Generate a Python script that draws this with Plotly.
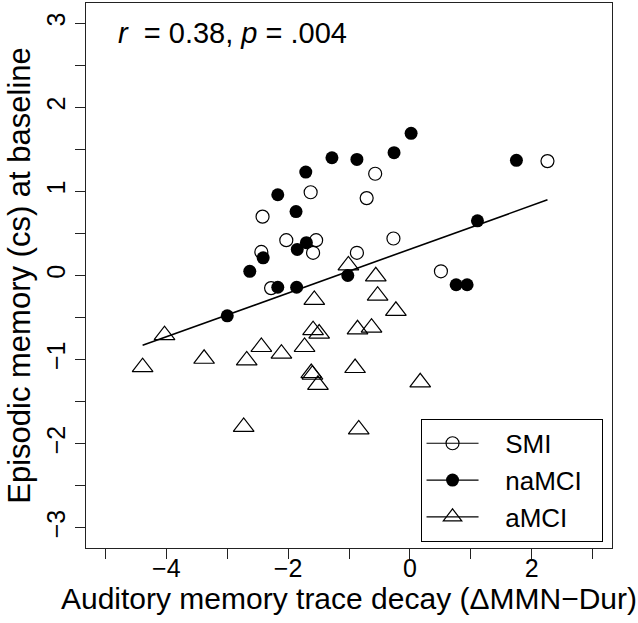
import plotly.graph_objects as go

# ---- data ----
smi_x = [-0.57, -1.63, -0.71, -2.42, -2.03, -1.54, -1.59, -2.44, -0.87, -0.27, -2.28, 2.26, 0.51]
smi_y = [1.21, 0.99, 0.92, 0.70, 0.42, 0.42, 0.27, 0.28, 0.27, 0.44, -0.15, 1.36, 0.05]

namci_x = [0.02, -0.26, -0.87, -1.28, -1.71, -2.17, -1.87, -1.70, -1.85, -2.41,
           -2.63, -2.17, -1.86, -1.02, 1.75, 1.11, 0.76, 0.94, -3.00]
namci_y = [1.69, 1.46, 1.38, 1.40, 1.23, 0.96, 0.76, 0.39, 0.31, 0.21,
           0.05, -0.14, -0.14, 0.00, 1.37, 0.65, -0.11, -0.11, -0.48]

amci_x = [-4.03, -4.39, -3.38, -2.68, -2.44, -2.11, -2.73, -1.01, -0.56, -1.57, -0.53, -0.23,
          -1.59, -1.49, -0.86, -0.63, -1.73, -1.62, -1.60, -1.51, -0.90, 0.17, -0.84]
amci_y = [-0.71, -1.09, -0.99, -1.01, -0.85, -0.93, -1.80, 0.12, -0.01, -0.29, -0.24, -0.42,
          -0.65, -0.69, -0.64, -0.62, -0.85, -1.16, -1.18, -1.30, -1.10, -1.27, -1.83]

fit_x = [-4.39, 2.26]
fit_y = [-0.83, 0.90]

group_names = ["SMI", "naMCI", "aMCI"]
x_ticks = [-4, -2, 0, 2]
y_ticks = [-3, -2, -1, 0, 1, 2, 3]
x_title = "Auditory memory trace decay (ΔMMN−Dur)"
y_title = "Episodic memory (cs) at baseline"
stat_text = "<i>r</i>\u00a0 = 0.38, <i>p</i> = .004"

FONT = "Liberation Sans, Arial, Helvetica, sans-serif"
INK = "#222"

fig = go.Figure()

open_circle = dict(symbol="circle-open", size=13, color="black", line=dict(width=1.2, color="black"))
filled_circle = dict(symbol="circle", size=13, color="black", line=dict(width=0))
open_tri = dict(symbol="triangle-up-open", size=18, color="black", line=dict(width=1.2, color="black"))

fig.add_trace(go.Scatter(x=smi_x, y=smi_y, mode="markers", marker=open_circle, showlegend=False))
fig.add_trace(go.Scatter(x=namci_x, y=namci_y, mode="markers", marker=filled_circle, showlegend=False))
fig.add_trace(go.Scatter(x=amci_x, y=amci_y, mode="markers", marker=open_tri, showlegend=False))
fig.add_trace(go.Scatter(x=fit_x, y=fit_y, mode="lines", line=dict(color="black", width=1.6), showlegend=False))

# legend entries (line + symbol, as in the reference)
pad_l = "\u00a0\u00a0\u00a0"
pad_r = "\u00a0\u00a0"
for name, mk in zip(group_names, [open_circle, filled_circle, open_tri]):
    fig.add_trace(go.Scatter(x=[None], y=[None], mode="lines+markers",
                             name=pad_l + name + pad_r,
                             marker=mk, line=dict(color="black", width=1.2)))

axis_common = dict(
    ticks="outside", ticklen=10, tickwidth=1, tickcolor=INK,
    showline=True, mirror=True, linecolor=INK, linewidth=1,
    showgrid=False, zeroline=False,
    tickfont=dict(size=25, color="black", family=FONT),
)

fig.update_xaxes(
    range=[-5.32, 3.32], tickmode="array", tickvals=x_ticks, ticklabelstandoff=-12,
    minor=dict(dtick=1, tick0=0, ticks="outside", ticklen=10, tickwidth=1, tickcolor=INK, showgrid=False),
    title=dict(text=x_title, font=dict(size=30, color="black", family=FONT), standoff=0),
    **axis_common,
)
fig.update_yaxes(
    range=[-3.24, 3.24], tickmode="array", tickvals=y_ticks, tickangle=-90,
    minor=dict(dtick=0.5, tick0=0, ticks="outside", ticklen=10, tickwidth=1, tickcolor=INK, showgrid=False),
    title=dict(text=y_title, font=dict(size=31, color="black", family=FONT), standoff=2),
    **axis_common,
)

fig.add_annotation(text=stat_text, xref="paper", yref="paper", x=0.057, y=0.945,
                   xanchor="left", yanchor="middle", showarrow=False,
                   font=dict(size=29, color="black", family=FONT))

fig.update_layout(
    width=638, height=623,
    margin=dict(l=86, r=26, t=3, b=75),
    plot_bgcolor="white", paper_bgcolor="white",
    font=dict(family=FONT, size=25, color="black"),
    legend=dict(x=0.636, y=0.237, xanchor="left", yanchor="top",
                bordercolor="black", borderwidth=1, bgcolor="white",
                font=dict(size=26, color="black", family=FONT),
                itemwidth=52, tracegroupgap=0),
)

fig.write_html("out.html", config={"displayModeBar": False},
               post_script="document.body.style.margin='0';")
